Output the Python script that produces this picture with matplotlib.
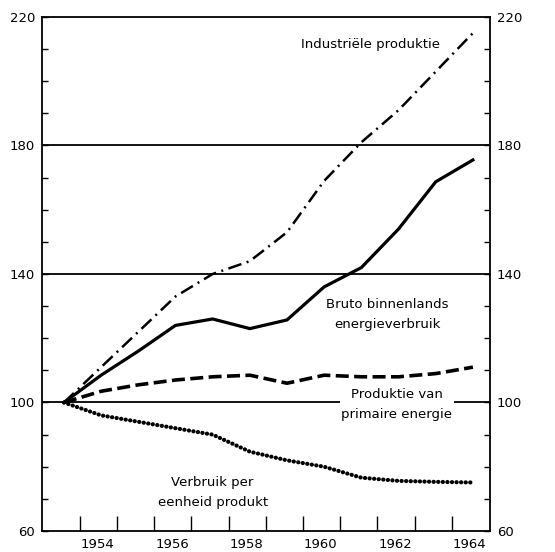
import matplotlib
matplotlib.use("Agg")
import matplotlib.pyplot as plt
import numpy as np

years = [1953, 1954, 1955, 1956, 1957, 1958, 1959, 1960, 1961, 1962, 1963, 1964]
industriele = [100, 111, 122, 133, 140, 144, 153, 169, 181, 191, 203, 215]
bruto = [100, 108.5, 116, 124, 126, 123, 125.7, 136, 142, 154, 168.7, 175.5]
primaire = [100, 103.5, 105.5, 107, 108, 108.5, 106, 108.5, 108, 108, 109, 111]
verbruik = [100, 96, 94, 92, 90, 84.7, 82, 80, 76.6, 75.6, 75.3, 75.1]

ytick_labels = [60, 100, 140, 180, 220]
xtick_labels = [1954, 1956, 1958, 1960, 1962, 1964]
gridlines = [100, 140, 180]

plt.rcParams['font.family'] = ['DejaVu Sans']
fig = plt.figure(figsize=(5.55, 5.52), dpi=100)
ax = fig.add_axes([42/555, 21/552, 448/555, 514/552])

for g in gridlines:
    ax.axhline(g, color='black', lw=1.3, zorder=1)

ax.plot(years, industriele, color='black', lw=1.8,
        linestyle=(0, (5.5, 2.2, 0.8, 2.2)), zorder=3)
ax.plot(years, bruto, color='black', lw=2.3, solid_joinstyle='miter', zorder=3)
ax.plot(years, primaire, color='black', lw=2.6,
        linestyle=(0, (3.6, 1.5)), zorder=3)
ax.plot(years, verbruik, color='black', lw=3.0,
        linestyle=(0, (0.05, 1.05)), dash_capstyle='round', zorder=3)

ax.set_xlim(1952.41, 1964.46)
ax.set_ylim(60, 220)

ax.set_yticks(np.arange(60, 221, 10), minor=True)
ax.set_yticks(ytick_labels)
ax.set_yticklabels([str(v) for v in ytick_labels])
ax.tick_params(axis='y', which='both', direction='in', length=4.5, width=1.0,
               left=True, right=True, labelleft=True, labelright=True,
               labelsize=9.5, pad=5)

ax.set_xticks([y - 0.09 for y in xtick_labels])
ax.set_xticklabels([str(v) for v in xtick_labels])
ax.set_xticks([y + 0.43 for y in range(1953, 1964)], minor=True)
ax.tick_params(axis='x', which='major', length=0, labelsize=9.5, pad=5)
ax.tick_params(axis='x', which='minor', direction='in', length=11, width=1.0)

for s in ax.spines.values():
    s.set_linewidth(1.3)

ax.text(1961.25, 211.5, "Industriële produktie", ha='center', va='center', fontsize=9.5)
ax.text(1961.7, 127.3, "Bruto binnenlands\nenergieverbruik", ha='center', va='center',
        fontsize=9.5, linespacing=1.7)
ax.text(1961.95, 99.4, "Produktie van\nprimaire energie", ha='center', va='center',
        fontsize=9.5, linespacing=1.7,
        bbox=dict(facecolor='white', edgecolor='none', pad=1.0), zorder=2)
ax.text(1957.0, 72.0, "Verbruik per\neenheid produkt", ha='center', va='center',
        fontsize=9.5, linespacing=1.7)

fig.savefig("out.png", dpi=100)
